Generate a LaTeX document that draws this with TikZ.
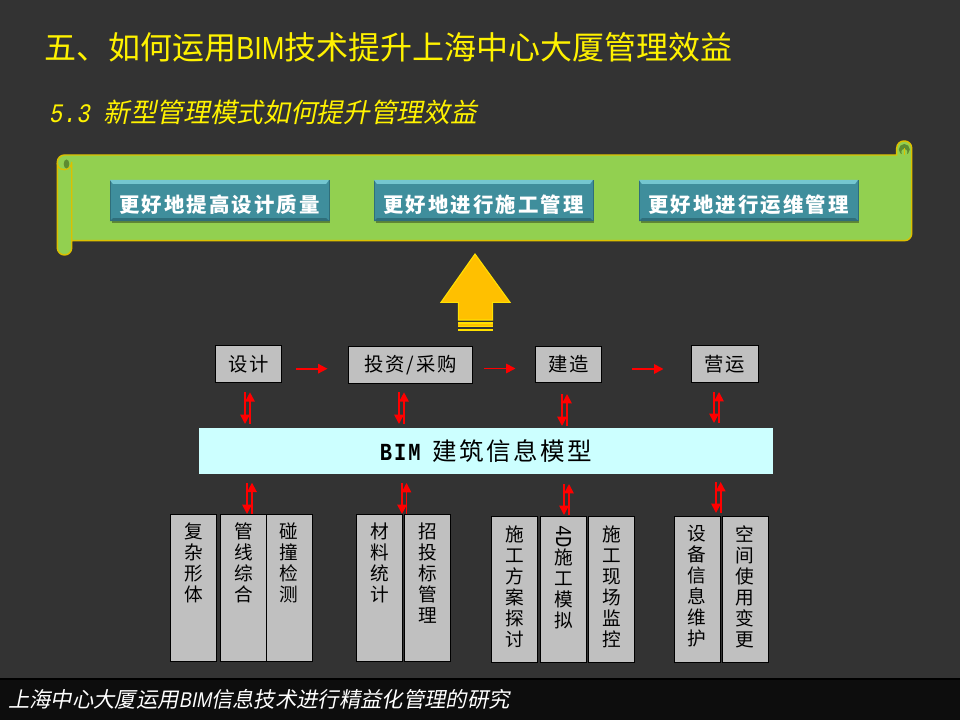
\documentclass[tikz,border=0pt]{standalone}
\usepackage{fontspec}
\usepackage{graphicx}
\usetikzlibrary{arrows.meta,shadows,calc}
\setmainfont{Noto Sans CJK SC}
\newfontfamily\cjkit[FakeSlant=0.2]{Noto Sans CJK SC}
\newfontfamily\cjkls[LetterSpace=10]{Noto Sans CJK SC}
\newfontfamily\latn[FakeStretch=0.85]{Liberation Sans}
\newfontfamily\latnit[FakeStretch=0.85,FakeSlant=0.2]{Liberation Sans}
\newfontfamily\monon[FakeStretch=0.83]{Liberation Mono}
\newfontfamily\monols[FakeStretch=0.83,LetterSpace=8]{Liberation Mono}
\newfontfamily\monoit[FakeStretch=0.83,FakeSlant=0.2,LetterSpace=2]{Liberation Mono}
\definecolor{bgdark}{HTML}{333333}
\definecolor{footbg}{HTML}{0D0D0D}
\definecolor{scrollgreen}{HTML}{92D050}
\definecolor{scrollline}{HTML}{DCC000}
\definecolor{folddark}{HTML}{5E8C30}
\definecolor{btnteal}{HTML}{3F8E9C}
\definecolor{btnlight}{HTML}{74C6D0}
\definecolor{btndark}{HTML}{2F6E7A}
\definecolor{cellgray}{HTML}{C0C0C0}
\definecolor{bandcyan}{HTML}{CCFFFF}
\definecolor{arrowgold}{HTML}{FFC000}
\definecolor{arrowline}{HTML}{FFE000}
\tikzset{
  btn/.style={fill=btnteal,draw=btndark,line width=.5pt,minimum width=164pt,minimum height=30.5pt,inner sep=0pt,text=white,
    font=\fontsize{15.3}{18}\selectfont\cjkls\bfseries,
    drop shadow={shadow xshift=1.2pt,shadow yshift=-1.5pt,opacity=.35,fill=black}},
  topbox/.style={fill=cellgray,draw=black,line width=.9pt,minimum height=27.5pt,inner sep=0pt,text=black,
    font=\fontsize{14.5}{16}\selectfont\cjkls},
  cell/.style={fill=cellgray,draw=black,line width=.9pt,inner sep=0pt,text=black,minimum width=34.5pt},
  ra/.style={draw=red,line width=1.3pt,-{Triangle[width=7pt,length=7pt]}},
}
\newcommand{\btntext}[1]{\raisebox{-9pt}[0pt][0pt]{#1}}
\newcommand{\stackcell}[2]{\parbox[c][#1][t]{34.5pt}{\centering\fontsize{14}{15.75}\selectfont\cjkls\vspace{6.5pt}#2\par}}
\newcommand{\dblarrow}[5]{%
  \coordinate (#1dt) at (#2,#4);\coordinate (#1db) at (#2,#5);
  \coordinate (#1ut) at (#3,#4);\coordinate (#1ub) at (#3,#5);
  \draw[ra] (#1dt) -- (#1db);
  \draw[ra] (#1ub) -- (#1ut);}
\begin{document}
\begin{tikzpicture}[x=.75pt,y=-.75pt]
\useasboundingbox (0,0) rectangle (960,720);
\fill[bgdark] (0,0) rectangle (960,720);
% footer
\fill[footbg] (0,678) rectangle (960,720);
\fill[black] (0,678) rectangle (960,680);
\node[anchor=west,inner sep=0pt,text=white,font=\fontsize{16}{18}\selectfont\cjkit] (foot) at (8,699)
  {上海中心大厦运用{\latnit BIM}信息技术进行精益化管理的研究};
% title
\node[anchor=west,inner sep=0pt,text=yellow,font=\fontsize{24}{28}\selectfont] (title) at (44,47)
  {五、如何运用{\latn BIM}技术提升上海中心大厦管理效益};
\node[anchor=west,inner sep=0pt,text=yellow,font=\fontsize{20}{24}\selectfont\cjkit] (subtitle) at (48.5,112)
  {{\monoit 5.3 }新型管理模式如何提升管理效益};
% scroll
\draw[fill=scrollgreen,draw=scrollline,line width=1.1pt,rounded corners=5.4pt]
  (57.3,200) -- (57.3,155) -- (700,155) [sharp corners] -- (896.7,155)
  [rounded corners=5.4pt] -- (896.7,141) -- (911.7,141) -- (911.7,240.7) -- (800,240.7)
  [sharp corners] -- (71.7,240.7) [rounded corners=5.4pt] -- (71.7,255) -- (57.3,255) -- cycle;
\draw[scrollline,line width=1pt] (71.7,240.7) -- (71.7,162) .. controls (71.7,172) and (57.3,172) .. (57.3,163);
\fill[folddark] (66.5,164) ellipse (2.8 and 4.5);
\fill[folddark] (904.3,149.5) circle (5.5);
\fill[scrollgreen] (904.3,152) circle (3);
\fill[scrollgreen] (901.8,152) rectangle (906.8,155);
\draw[scrollline,line width=1pt] (904.3,148) -- (904.3,155);
% buttons
\node[btn] (b1) at (219.5,200.5) {\btntext{更好地提高设计质量}};
\node[btn] (b2) at (483.5,200.5) {\btntext{更好地进行施工管理}};
\node[btn] (b3) at (748.5,200.5) {\btntext{更好地进行运维管理}};
\foreach \b in {b1,b2,b3}{
  \fill[btnlight] (\b.north west) -- (\b.north east) -- ++(-3,4) -- ($(\b.north west)+(3,4)$) -- cycle;
  \fill[btndark] (\b.south west) -- (\b.south east) -- ++(-3,-3) -- ($(\b.south west)+(3,-3)$) -- cycle;
}
% big arrow
\draw[fill=arrowgold,draw=arrowline,line width=.8pt,line join=miter]
  (475,254) -- (510,302.3) -- (492.7,302.3) -- (492.7,320) -- (458.3,320) -- (458.3,302.3) -- (441,302.3) -- cycle;
\fill[arrowline] (458,322) rectangle (493,323.6);
\fill[arrowgold] (458,323.6) rectangle (493,326.4);
\fill[arrowline] (458,326.4) rectangle (493,327.4);
\fill[arrowline] (458,329) rectangle (493,331);
% top row
\node[topbox,minimum width=49.5pt] (design) at (248.5,363.8) {设计};
\node[topbox,minimum width=93.5pt] (invest) at (410.5,365) {投资/采购};
\node[topbox,minimum width=50pt] (build) at (568.5,364.5) {建造};
\node[topbox,minimum width=50.5pt] (oper) at (725,363.8) {营运};
% horizontal arrows
\coordinate (h1a) at (296,368.7);\coordinate (h1b) at (327.5,368.7);
\coordinate (h2a) at (484,368.5);\coordinate (h2b) at (515.5,368.5);
\coordinate (h3a) at (632,369);\coordinate (h3b) at (663.5,369);
\draw[ra] (h1a) -- (h1b);
\draw[ra] (h2a) -- (h2b);
\draw[ra] (h3a) -- (h3b);
% band
\node[fill=bandcyan,minimum width=430.5pt,minimum height=34.5pt,inner sep=0pt,text=black,
  font=\fontsize{18.4}{20}\selectfont\cjkls] (bim) at (486,451)
  {{\monols\bfseries BIM} \,建筑信息模型};
% vertical double arrows
\dblarrow{a}{245}{250}{392.3}{424}
\dblarrow{b}{399}{404}{392.3}{424}
\dblarrow{c}{562}{567}{394}{426}
\dblarrow{d}{714}{719}{392}{423}
\dblarrow{e}{247}{252}{482.7}{514}
\dblarrow{f}{402}{406.5}{483}{514}
\dblarrow{g}{564}{569}{484}{515}
\dblarrow{h}{716}{720.7}{482}{513}
% lower cells
\node[cell] (c1) at (193.7,587.8) {\stackcell{110.25pt}{复\\杂\\形\\体}};
\node[cell] (c2) at (243.5,587.8) {\stackcell{110.25pt}{管\\线\\综\\合}};
\node[cell] (c3) at (289.3,587.8) {\stackcell{110.25pt}{碰\\撞\\检\\测}};
\node[cell] (c4) at (379.5,587.8) {\stackcell{110.25pt}{材\\料\\统\\计}};
\node[cell] (c5) at (427.5,587.8) {\stackcell{110.25pt}{招\\投\\标\\管\\理}};
\node[cell] (c6) at (514.5,589.5) {\stackcell{109.2pt}{施\\工\\方\\案\\探\\讨}};
\node[cell] (c7) at (563.5,589.5) {\stackcell{109.2pt}{\rotatebox{-90}{\fontsize{17}{17}\selectfont\monon 4D}\\施\\工\\模\\拟}};
\node[cell] (c8) at (611.5,589.5) {\stackcell{109.2pt}{施\\工\\现\\场\\监\\控}};
\node[cell] (c9) at (697.3,589.5) {\stackcell{109.2pt}{设\\备\\信\\息\\维\\护}};
\node[cell] (c10) at (745.3,589.5) {\stackcell{109.2pt}{空\\间\\使\\用\\变\\更}};
\end{tikzpicture}
\end{document}
